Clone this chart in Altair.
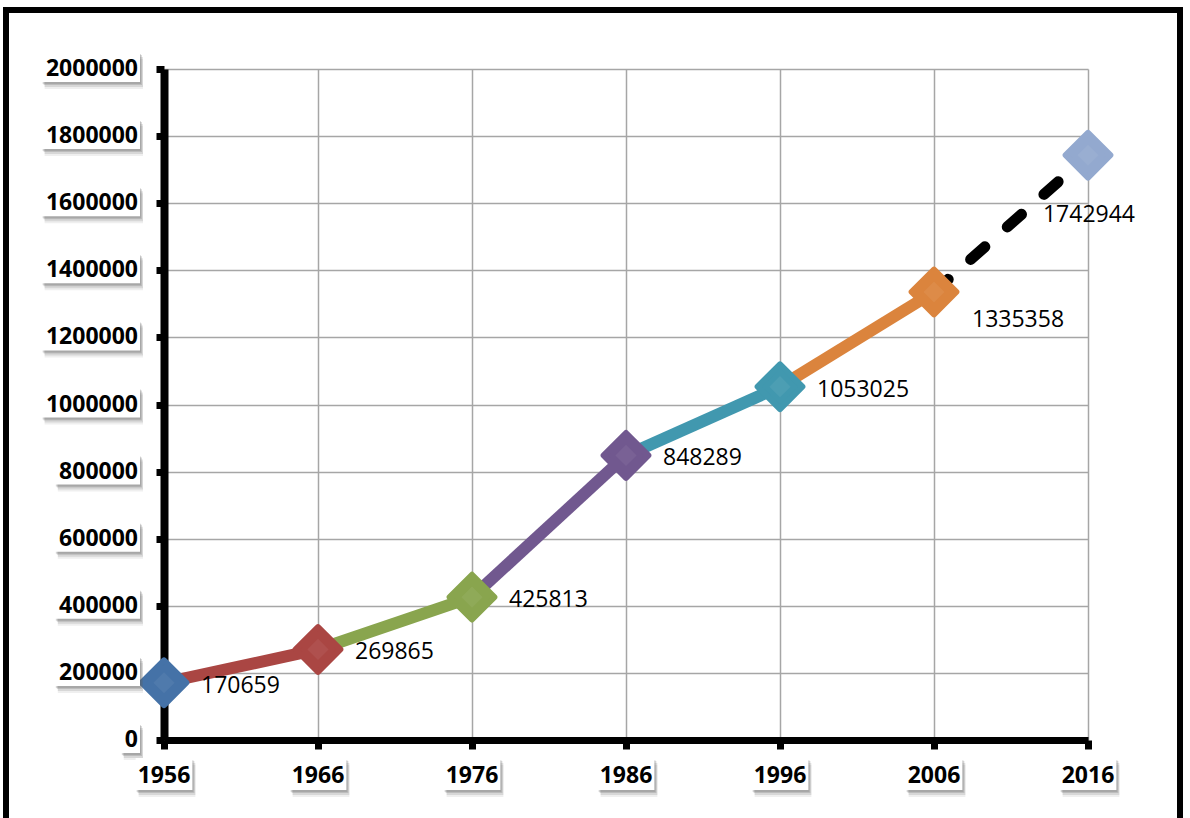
import altair as alt
import pandas as pd

# Census years and population counts
years = [1956, 1966, 1976, 1986, 1996, 2006, 2016]
population = [170659, 269865, 425813, 848289, 1053025, 1335358, 1742944]

# Axis tick values
y_ticks = [0, 200000, 400000, 600000, 800000, 1000000,
           1200000, 1400000, 1600000, 1800000, 2000000]
x_ticks = [1956, 1966, 1976, 1986, 1996, 2006, 2016]

# One colour per census point; a segment takes the colour of its end point
palette = ["#4572A7", "#AA4643", "#89A54E", "#71588F", "#4198AF", "#DB843D", "#93A9CF"]

W, H = 924, 671
FONT = "Open Sans"
DIGIT_W = 13.2          # advance of one bold digit at 23px
BOX_SIZE = 10000        # symbol size -> path unit of 50px
U = 50.0

points = pd.DataFrame({"year": years, "pop": population})
points["label"] = points["pop"].astype(str)

seg_rows = []
for i in range(len(years) - 1):
    for j in (i, i + 1):
        seg_rows.append({"seg": i, "end": years[i + 1],
                         "year": years[j], "pop": population[j]})
segments = pd.DataFrame(seg_rows)


def right_box(n_chars, h=30.0):
    w = n_chars * DIGIT_W + 6
    t, b = -h / 2 / U, h / 2 / U
    return f"M0,{t}L{-w / U},{t}L{-w / U},{b}L0,{b}Z"


def center_box(n_chars, h=32.0):
    w = n_chars * DIGIT_W + 4
    t, b, l, r = -h / 2 / U, h / 2 / U, -w / 2 / U, w / 2 / U
    return f"M{l},{t}L{r},{t}L{r},{b}L{l},{b}Z"


ylab = pd.DataFrame({"v": y_ticks})
ylab["text"] = ylab["v"].astype(str)
ylab["path"] = [right_box(len(s)) for s in ylab["text"]]

xlab = pd.DataFrame({"v": x_ticks})
xlab["text"] = xlab["v"].astype(str)
xlab["path"] = [center_box(len(s)) for s in xlab["text"]]

x_scale = alt.Scale(domain=[1956, 2016], nice=False, zero=False)
y_scale = alt.Scale(domain=[0, 2000000], nice=False)
color_scale = alt.Scale(domain=years, range=palette)

# grid, axis lines and ticks; the tick labels are drawn as text marks above their boxes
x_axis = alt.Axis(values=x_ticks, title=None, labels=False, grid=True,
                  gridColor="#A6A6A6", gridWidth=1.5,
                  domainColor="black", domainWidth=7,
                  tickColor="black", tickWidth=7, tickSize=9)
y_axis = alt.Axis(values=y_ticks, title=None, labels=False, grid=True,
                  gridColor="#A6A6A6", gridWidth=1.5,
                  domainColor="black", domainWidth=8,
                  tickColor="black", tickWidth=7, tickSize=8)


def X(field):
    return alt.X(field, scale=x_scale, axis=x_axis, title=None)


def Y(field):
    return alt.Y(field, scale=y_scale, axis=y_axis, title=None)


# coloured solid segments
solid = alt.Chart(segments[segments["seg"] < 5]).mark_line(
    strokeWidth=12, strokeCap="butt"
).encode(
    x=X("year:Q"), y=Y("pop:Q"),
    detail="seg:N",
    color=alt.Color("end:O", scale=color_scale, legend=None),
)

# projected segment, dashed
dashed = alt.Chart(segments[segments["seg"] == 5]).mark_line(
    strokeWidth=11, strokeCap="round", strokeDash=[19, 30], color="black"
).encode(x=X("year:Q"), y=Y("pop:Q"))

markers = alt.Chart(points).mark_point(
    shape="diamond", filled=True, size=2000, strokeWidth=6,
    strokeJoin="round", opacity=1
).encode(
    x=X("year:Q"), y=Y("pop:Q"),
    fill=alt.Fill("year:O", scale=color_scale, legend=None),
    stroke=alt.Stroke("year:O", scale=color_scale, legend=None),
)

glow = alt.Chart(points).mark_point(
    shape="diamond", filled=True, size=450, color="white", opacity=0.06
).encode(x=X("year:Q"), y=Y("pop:Q"))

label_enc = dict(x=X("year:Q"), y=Y("pop:Q"), text="label:N")
labels_main = alt.Chart(points[points["year"] <= 1996]).mark_text(
    font=FONT, fontSize=23, color="black", align="left", baseline="middle",
    dx=37, dy=3
).encode(**label_enc)
labels_2006 = alt.Chart(points[points["year"] == 2006]).mark_text(
    font=FONT, fontSize=23, color="black", align="left", baseline="middle",
    dx=38, dy=28
).encode(**label_enc)
labels_2016 = alt.Chart(points[points["year"] == 2016]).mark_text(
    font=FONT, fontSize=23, color="black", align="center", baseline="middle",
    dx=1, dy=60
).encode(**label_enc)


def boxes(df, xenc, yenc, dx, dy, color, opacity):
    return alt.Chart(df).mark_point(
        filled=True, size=BOX_SIZE, strokeWidth=0, color=color,
        opacity=opacity, xOffset=dx, yOffset=dy
    ).encode(
        x=xenc, y=yenc,
        shape=alt.Shape("path:N", scale=None, legend=None),
    )


y_box_x = alt.value(-24)
x_box_y = alt.value(705)

# soft drop shadow built from a few offset translucent copies
shadow_steps = [(3, 7, 0.10), (3, 5, 0.16), (2, 3, 0.22), (1, 2, 0.22)]
tick_boxes = []
for dx, dy, op in shadow_steps:
    tick_boxes.append(boxes(ylab, y_box_x, Y("v:Q"), dx, dy - 2, "#606060", op))
    tick_boxes.append(boxes(xlab, X("v:Q"), x_box_y, dx, dy, "#606060", op))
tick_boxes.append(boxes(ylab, y_box_x, Y("v:Q"), 0, -2, "white", 1))
tick_boxes.append(boxes(xlab, X("v:Q"), x_box_y, 0, 0, "white", 1))

y_text = alt.Chart(ylab).mark_text(
    font=FONT, fontSize=23, fontWeight="bold", color="black",
    align="right", baseline="middle"
).encode(x=alt.value(-26), y=Y("v:Q"), text="text:N")

x_text = alt.Chart(xlab).mark_text(
    font=FONT, fontSize=23, fontWeight="bold", color="black",
    align="center", baseline="middle"
).encode(x=X("v:Q"), y=alt.value(707), text="text:N")

# black frame around the whole figure
frame = alt.Chart(alt.Data(values=[{}])).mark_rect(
    fillOpacity=0, stroke="black", strokeWidth=6
).encode(
    x=alt.value(-158), x2=alt.value(1016),
    y=alt.value(-59), y2=alt.value(770),
)

chart = alt.layer(
    solid, dashed, markers, glow,
    labels_main, labels_2006, labels_2016,
    *tick_boxes, y_text, x_text, frame,
).properties(
    width=W, height=H,
    autosize=alt.AutoSizeParams(type="none"),
    padding={"left": 164, "top": 69, "right": 1190 - 164 - W, "bottom": 818 - 69 - H},
    background="white",
).configure_view(strokeWidth=0)

chart.save("out.html", embed_options={"renderer": "svg", "actions": False})
